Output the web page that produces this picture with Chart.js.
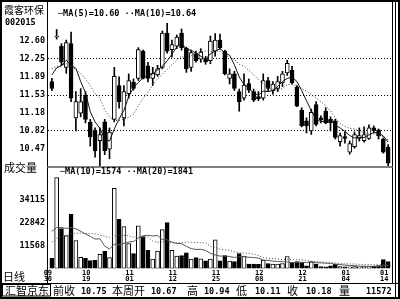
<!DOCTYPE html>
<html>
<head>
<meta charset="utf-8">
<script src="https://cdn.jsdelivr.net/npm/chart.js@4.4.0/dist/chart.umd.min.js"></script>
<style>
  html, body { margin: 0; padding: 0; background: #fff; }
  #wrap { position: relative; width: 400px; height: 299px; overflow: hidden; background: #fff; }
  #c { position: absolute; left: 0; top: 0; }
  .t { position: absolute; white-space: pre; color: #000; line-height: 1; }
  .cn { font-family: "Noto Sans CJK SC"; font-size: 11px; }
  .num { font-family: "DejaVu Sans Mono"; font-weight: bold; font-size: 8.5px; }
</style>
</head>
<body>
<div id="wrap">
  <canvas id="c" width="400" height="299"></canvas>
  <div class="t cn" style="left:4px;top:5px;font-size:10px">霞客环保</div>
  <div class="t num" style="left:5px;top:18px">002015</div>
  <div class="t num" style="left:58px;top:9px">─MA(5)=10.60 ··MA(10)=10.64</div>
  <div class="t cn" style="left:4px;top:162px">成交量</div>
  <div class="t num" style="left:60px;top:167px">─MA(10)=1574 ··MA(20)=1841</div>
  <div class="t cn" style="left:3px;top:271px">日线</div>
  <div class="t cn" style="left:5px;top:285px">汇智京东</div>
  <div class="t cn" style="left:53px;top:285px">前收</div>
  <div class="t num" style="left:81px;top:287px">10.75</div>
  <div class="t cn" style="left:112px;top:285px">本周开</div>
  <div class="t num" style="left:151px;top:287px">10.67</div>
  <div class="t cn" style="left:187px;top:285px">高</div>
  <div class="t num" style="left:204px;top:287px">10.94</div>
  <div class="t cn" style="left:236px;top:285px">低</div>
  <div class="t num" style="left:255px;top:287px">10.11</div>
  <div class="t cn" style="left:287px;top:285px">收</div>
  <div class="t num" style="left:306px;top:287px">10.18</div>
  <div class="t cn" style="left:339px;top:285px">量</div>
  <div class="t num" style="left:366px;top:287px">11572</div>
</div>
<script>
// date ticks (trading day index -> label)
const dateIdx = [0, 8, 17, 26, 35, 44, 53, 62, 70];
const dateLabels = [['09','30'], ['10','19'], ['11','01'], ['11','12'], ['11','25'], ['12','08'], ['12','21'], ['01','04'], ['01','14']];

const priceTicks = [12.60, 12.25, 11.89, 11.53, 11.18, 10.82, 10.47];
const priceGrid = [12.25, 11.53, 10.82];
const volTicks = [34115, 22842, 11568];

const opens = [
  11.80, 12.68, 12.50, 12.08, 12.55, 11.08, 11.17, 11.53, 10.99, 10.82,
  10.63, 11.00, 10.46, 11.05, 11.72, 11.08, 11.56, 11.79, 11.86, 12.40,
  12.11, 11.86, 11.93, 12.08, 12.76, 12.43, 12.50, 12.76, 12.46, 12.08,
  12.35, 12.24, 12.24, 12.21, 12.40, 12.62, 12.40, 11.86, 11.95, 11.60,
  11.47, 11.76, 11.60, 11.50, 11.47, 11.82, 11.62, 11.66, 11.77, 11.97,
  12.02, 11.69, 11.23, 11.02, 10.82, 11.34, 11.08, 11.21, 11.05, 11.02,
  10.61, 10.71, 10.40, 10.51, 10.67, 10.63, 10.67, 10.88, 10.84, 10.66, 10.50
];
const highs = [
  11.86, 12.83, 12.55, 12.62, 12.78, 11.60, 11.66, 11.60, 11.05, 10.88,
  10.88, 11.05, 10.88, 12.08, 11.89, 11.72, 11.95, 11.85, 12.47, 12.42,
  12.18, 12.08, 12.12, 12.80, 12.95, 12.62, 12.72, 12.84, 12.48, 12.42,
  12.40, 12.45, 12.30, 12.70, 12.75, 12.74, 12.42, 12.05, 12.00, 11.65,
  11.95, 11.85, 11.65, 11.60, 11.95, 11.88, 11.80, 11.90, 12.00, 12.22,
  12.10, 11.72, 11.28, 11.08, 11.25, 11.40, 11.12, 11.28, 11.10, 11.05,
  10.78, 10.80, 10.62, 10.80, 10.88, 10.90, 10.94, 10.92, 10.86, 10.68, 10.55
];
const lows = [
  11.62, 12.64, 12.12, 11.96, 11.40, 10.82, 11.10, 10.98, 10.52, 10.30,
  10.13, 10.35, 10.27, 11.00, 11.27, 10.92, 11.47, 11.63, 11.82, 11.85,
  11.79, 11.72, 11.90, 12.05, 12.36, 12.28, 12.45, 12.42, 11.98, 12.00,
  12.18, 12.18, 12.14, 12.15, 12.30, 12.44, 11.93, 11.75, 11.62, 11.21,
  11.43, 11.58, 11.40, 11.42, 11.43, 11.60, 11.55, 11.60, 11.70, 11.92,
  11.75, 11.30, 10.90, 10.78, 10.75, 10.92, 10.98, 10.96, 10.82, 10.66,
  10.52, 10.58, 10.36, 10.48, 10.62, 10.60, 10.65, 10.78, 10.66, 10.38, 10.11
];
const closes = [
  11.66, 12.70, 12.18, 12.57, 11.47, 11.40, 11.40, 11.05, 10.70, 10.43,
  10.75, 10.43, 10.80, 11.90, 11.40, 11.60, 11.82, 11.66, 12.43, 11.86,
  11.86, 11.96, 12.05, 12.76, 12.40, 12.53, 12.68, 12.47, 12.05, 12.37,
  12.21, 12.38, 12.19, 12.60, 12.62, 12.47, 11.95, 11.95, 11.66, 11.40,
  11.73, 11.63, 11.43, 11.46, 11.82, 11.66, 11.75, 11.80, 11.95, 12.16,
  11.77, 11.31, 10.92, 10.92, 11.19, 10.95, 11.04, 10.98, 10.98, 10.69,
  10.73, 10.67, 10.57, 10.75, 10.73, 10.75, 10.88, 10.83, 10.72, 10.40, 10.18
];
const ma5 = [
  11.93, 12.07, 12.11, 12.22, 12.12, 12.06, 11.80, 11.58, 11.20, 11.00,
  10.87, 10.67, 10.62, 10.86, 11.06, 11.23, 11.50, 11.68, 11.78, 11.87,
  11.93, 11.95, 12.03, 12.10, 12.21, 12.34, 12.48, 12.57, 12.43, 12.42,
  12.36, 12.30, 12.24, 12.35, 12.40, 12.45, 12.37, 12.32, 12.13, 11.89,
  11.74, 11.67, 11.57, 11.53, 11.61, 11.60, 11.62, 11.70, 11.80, 11.86,
  11.89, 11.80, 11.62, 11.42, 11.22, 11.06, 11.00, 11.02, 11.03, 10.93,
  10.88, 10.81, 10.73, 10.68, 10.69, 10.69, 10.74, 10.79, 10.78, 10.72, 10.60
];
const ma10 = [
  12.05, 12.10, 12.12, 12.15, 12.10, 12.04, 11.96, 11.85, 11.72, 11.56,
  11.47, 11.24, 11.10, 11.03, 11.03, 11.05, 11.09, 11.15, 11.32, 11.47,
  11.58, 11.73, 11.85, 11.94, 12.04, 12.13, 12.22, 12.30, 12.26, 12.31,
  12.35, 12.39, 12.40, 12.39, 12.41, 12.40, 12.33, 12.28, 12.24, 12.14,
  12.10, 12.02, 11.94, 11.83, 11.75, 11.67, 11.65, 11.63, 11.66, 11.74,
  11.74, 11.71, 11.66, 11.61, 11.54, 11.47, 11.40, 11.32, 11.22, 11.08,
  10.97, 10.91, 10.87, 10.86, 10.81, 10.79, 10.77, 10.76, 10.73, 10.70, 10.64
];
const volumes = [
  5050, 45400, 20000, 16460, 27100, 14000, 5600, 5050, 4000, 4100,
  7100, 8600, 5400, 40100, 24600, 20900, 12500, 7500, 21360, 16000,
  9100, 4700, 8700, 19400, 23000, 9100, 6200, 6400, 7800, 4700,
  5500, 4800, 3800, 4700, 14350, 3800, 6500, 3700, 3500, 7500,
  6200, 2250, 2250, 2100, 4200, 2500, 2250, 2200, 2500, 6000,
  3000, 3400, 3000, 1300, 3400, 2250, 1000, 800, 1300, 2100,
  1000, 800, 800, 1000, 800, 1270, 900, 1100, 1500, 4500, 3500
];
const volMa10 = [
  18500, 20500, 20500, 20000, 20500, 19800, 18600, 17300, 16000, 14680,
  14880, 11200, 9740, 12110, 11860, 12550, 13240, 13480, 15220, 16410,
  16610, 16220, 16550, 14480, 14320, 13140, 12510, 12400, 11040, 9910,
  9550, 9560, 9070, 7600, 6740, 6210, 6240, 5970, 5540, 5820,
  5890, 5630, 5480, 5220, 4200, 4070, 3650, 3500, 3400, 3250,
  2930, 3040, 3120, 3040, 2960, 2930, 2810, 2670, 2550, 2160,
  1960, 1700, 1480, 1450, 1190, 1090, 1080, 1110, 1130, 1370, 1574
];
const volMa20 = [
  13180, 15120, 15800, 16300, 17330, 17700, 17660, 17580, 17460, 17340,
  16690, 16120, 15390, 16400, 16630, 16670, 16300, 15670, 15740, 15540,
  15740, 13710, 13140, 13290, 13090, 12840, 12870, 12940, 13130, 13160,
  13080, 12890, 12810, 11040, 10530, 9670, 9370, 9180, 8290, 7860,
  7720, 7600, 7270, 6410, 5470, 5140, 4940, 4730, 4470, 4530,
  4410, 4340, 4300, 4130, 3580, 3500, 3230, 3080, 2970, 2700,
  2440, 2370, 2300, 2240, 2070, 2010, 1940, 1890, 1840, 1760, 1841
];

const n = closes.length;
const isUp = i => closes[i] >= opens[i];
const fillFor = ctx => isUp(ctx.dataIndex) ? '#ffffff' : '#000000';
const pts = arr => arr.map((v, i) => ({ x: i, y: v }));
const tickFont = { family: 'DejaVu Sans Mono', size: 8.5, weight: 'bold' };

// frame lines, pane divider, info box
const framePlugin = {
  id: 'frame',
  afterDraw(chart) {
    const { ctx, chartArea: a, scales } = chart;
    const W = chart.width, H = chart.height;
    const L = Math.round(a.left) - 0.5;
    const R = Math.round(a.right) + 0.5;
    const xb = Math.round(scales.x.bottom) + 0.5;
    ctx.save();
    ctx.strokeStyle = '#000';
    ctx.lineWidth = 2;
    ctx.strokeRect(1, 1, W - 2, H - 2);
    ctx.lineWidth = 1;
    ctx.beginPath();
    ctx.moveTo(L, 2); ctx.lineTo(L, xb);
    ctx.moveTo(R, 2); ctx.lineTo(R, xb);
    ctx.moveTo(R + 3, 2); ctx.lineTo(R + 3, H - 2);
    ctx.moveTo(2, xb); ctx.lineTo(W - 2, xb);
    ctx.stroke();
    ctx.strokeRect(2.5, xb + 1, 48, H - xb - 4);
    ctx.strokeStyle = '#808080';
    ctx.lineWidth = 2;
    const ys = Math.round(scales.y.bottom) + 1;
    ctx.beginPath(); ctx.moveTo(L, ys); ctx.lineTo(R, ys); ctx.stroke();
    ctx.restore();
  }
};

new Chart(document.getElementById('c'), {
  type: 'bar',
  data: {
    datasets: [
      {
        label: 'wick', yAxisID: 'y', order: 4, grouped: false,
        data: lows.map((l, i) => ({ x: i, y: [l, highs[i]] })),
        backgroundColor: '#000', borderWidth: 0, barThickness: 1
      },
      {
        label: 'body', yAxisID: 'y', order: 3, grouped: false,
        data: opens.map((o, i) => ({ x: i, y: [o, closes[i]] })),
        backgroundColor: fillFor, borderColor: '#000', borderWidth: 1,
        borderSkipped: false, barThickness: 4, minBarLength: 1
      },
      {
        type: 'line', label: 'MA5', yAxisID: 'y', order: 1,
        data: pts(ma5), borderColor: '#111', borderWidth: 1, pointRadius: 0
      },
      {
        type: 'line', label: 'MA10', yAxisID: 'y', order: 1,
        data: pts(ma10), borderColor: '#333', borderWidth: 1, borderDash: [1, 2], pointRadius: 0
      },
      {
        label: 'vol', yAxisID: 'yv', order: 3, grouped: false,
        data: pts(volumes),
        backgroundColor: fillFor, borderColor: '#000', borderWidth: 1,
        borderSkipped: false, barThickness: 4
      },
      {
        type: 'line', label: 'VMA10', yAxisID: 'yv', order: 1,
        data: pts(volMa10), borderColor: '#555', borderWidth: 1, pointRadius: 0
      },
      {
        type: 'line', label: 'VMA20', yAxisID: 'yv', order: 1,
        data: pts(volMa20), borderColor: '#444', borderWidth: 1, borderDash: [1, 2], pointRadius: 0
      }
    ]
  },
  options: {
    responsive: false,
    animation: false,
    devicePixelRatio: 1,
    layout: { padding: { top: 3, left: 0, right: 8, bottom: 16.5 } },
    plugins: { legend: { display: false }, tooltip: { enabled: false } },
    scales: {
      x: {
        type: 'linear', min: -0.8, max: n - 0.2, offset: false,
        grid: { display: false, drawTicks: false }, border: { display: false },
        afterBuildTicks: s => { s.ticks = dateIdx.map(v => ({ value: v })); },
        afterFit: s => { s.height = 14; },
        ticks: {
          autoSkip: false, maxRotation: 0, padding: 1, labelOffset: -4, color: '#000',
          font: { family: 'DejaVu Sans Mono', size: 7, weight: 'bold', lineHeight: '6.5px' },
          callback: v => { const k = dateIdx.indexOf(v); return k < 0 ? '' : dateLabels[k]; }
        }
      },
      yv: {
        type: 'linear', position: 'left', stack: 'panes', stackWeight: 104.6,
        min: 0, max: 51254,
        afterBuildTicks: s => { s.ticks = volTicks.map(v => ({ value: v })); },
        afterFit: s => { s.width = 48; },
        grid: { display: false, drawTicks: false }, border: { display: false },
        ticks: { padding: 3, color: '#000', font: tickFont, callback: v => String(v) }
      },
      y: {
        type: 'linear', position: 'left', stack: 'panes', stackWeight: 161,
        min: 10.127, max: 13.253,
        afterBuildTicks: s => { s.ticks = priceTicks.map(v => ({ value: v })); },
        afterFit: s => { s.width = 48; },
        grid: {
          drawTicks: false, lineWidth: 1,
          color: c => (c.tick && priceGrid.includes(c.tick.value)) ? '#000' : 'rgba(0,0,0,0)'
        },
        border: { display: false, dash: [1, 2] },
        ticks: { padding: 3, color: '#000', font: tickFont, callback: v => v.toFixed(2) }
      }
    }
  },
  plugins: [framePlugin]
});
</script>
</body>
</html>
